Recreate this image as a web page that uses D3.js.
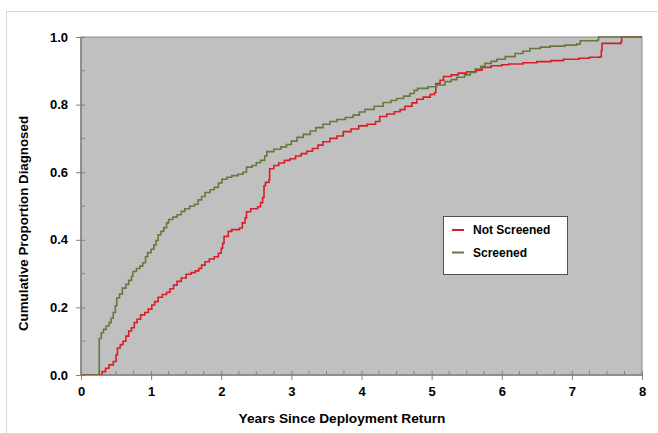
<!DOCTYPE html>
<html>
<head>
<meta charset="utf-8">
<script src="https://cdn.jsdelivr.net/npm/d3@7/dist/d3.min.js"></script>
<style>
  html, body { margin: 0; padding: 0; background: #ffffff; }
  svg { display: block; font-family: "Liberation Sans", Arial, sans-serif; }
</style>
</head>
<body>
<svg id="chart" width="658" height="433"></svg>
<script>
// ---- data ----
const seriesNames = ["Not Screened", "Screened"];
const seriesColors = ["#dc1c24", "#647a3a"];
const xTicks = [0, 1, 2, 3, 4, 5, 6, 7, 8];
const yTicks = [0.0, 0.2, 0.4, 0.6, 0.8, 1.0];
const xTitle = "Years Since Deployment Return";
const yTitle = "Cumulative Proportion Diagnosed";

const notScreened = [
  [0,0],[0.25,0],[0.30,0.01],[0.35,0.02],[0.40,0.03],[0.46,0.04],[0.50,0.06],[0.52,0.08],[0.56,0.09],
  [0.60,0.10],[0.64,0.115],[0.68,0.13],[0.72,0.14],[0.76,0.155],[0.80,0.165],[0.85,0.178],[0.91,0.185],
  [0.96,0.195],[1.01,0.207],[1.05,0.217],[1.10,0.23],[1.16,0.238],[1.22,0.245],[1.27,0.255],[1.32,0.266],
  [1.37,0.277],[1.43,0.287],[1.50,0.298],[1.57,0.303],[1.63,0.308],[1.68,0.315],[1.72,0.325],[1.77,0.335],
  [1.83,0.343],[1.90,0.350],[1.96,0.360],[2.00,0.375],[2.02,0.39],[2.04,0.41],[2.10,0.425],[2.15,0.43],
  [2.26,0.435],[2.30,0.45],[2.34,0.465],[2.36,0.483],[2.42,0.492],[2.52,0.498],[2.56,0.51],[2.59,0.525],
  [2.61,0.56],[2.63,0.57],[2.68,0.578],[2.69,0.61],[2.75,0.62],[2.82,0.627],[2.90,0.635],[2.98,0.64],
  [3.06,0.648],[3.14,0.655],[3.22,0.662],[3.30,0.670],[3.38,0.68],[3.45,0.69],[3.55,0.70],[3.65,0.707],
  [3.74,0.72],[3.85,0.728],[3.96,0.737],[4.08,0.742],[4.20,0.75],[4.26,0.765],[4.36,0.772],[4.47,0.779],
  [4.55,0.785],[4.62,0.795],[4.72,0.805],[4.79,0.816],[4.88,0.822],[4.98,0.83],[5.04,0.835],[5.06,0.862],
  [5.12,0.872],[5.17,0.883],[5.28,0.888],[5.38,0.893],[5.50,0.897],[5.64,0.902],[5.72,0.91],[5.85,0.915],
  [6.00,0.918],[6.10,0.92],[6.30,0.924],[6.50,0.927],[6.70,0.930],[6.88,0.934],[7.10,0.937],[7.25,0.940],
  [7.40,0.942],[7.42,0.96],[7.43,0.981],[7.70,0.986],[7.71,1.0],[8,1.0]
];

const screened = [
  [0,0],[0.26,0],[0.26,0.108],[0.29,0.125],[0.32,0.135],[0.36,0.145],[0.40,0.155],[0.43,0.168],[0.46,0.185],
  [0.49,0.205],[0.51,0.228],[0.55,0.24],[0.59,0.257],[0.64,0.268],[0.68,0.28],[0.72,0.292],[0.74,0.306],
  [0.79,0.315],[0.84,0.322],[0.88,0.332],[0.92,0.350],[0.95,0.362],[1.00,0.372],[1.04,0.385],[1.07,0.398],
  [1.10,0.415],[1.14,0.425],[1.18,0.436],[1.22,0.45],[1.25,0.46],[1.31,0.467],[1.37,0.474],[1.43,0.484],
  [1.48,0.492],[1.55,0.50],[1.62,0.505],[1.67,0.518],[1.72,0.528],[1.77,0.54],[1.84,0.548],[1.90,0.555],
  [1.96,0.568],[2.01,0.579],[2.08,0.585],[2.15,0.59],[2.24,0.594],[2.31,0.60],[2.36,0.615],[2.44,0.62],
  [2.50,0.628],[2.56,0.635],[2.62,0.648],[2.65,0.661],[2.75,0.668],[2.85,0.675],[2.93,0.682],[3.00,0.692],
  [3.08,0.703],[3.17,0.712],[3.27,0.722],[3.35,0.732],[3.45,0.742],[3.55,0.75],[3.65,0.756],[3.77,0.762],
  [3.88,0.769],[3.97,0.778],[4.05,0.786],[4.18,0.795],[4.31,0.806],[4.42,0.812],[4.50,0.818],[4.60,0.825],
  [4.69,0.833],[4.75,0.842],[4.80,0.848],[4.95,0.853],[5.07,0.858],[5.19,0.868],[5.28,0.874],[5.36,0.881],
  [5.47,0.888],[5.55,0.895],[5.62,0.905],[5.70,0.913],[5.76,0.922],[5.85,0.928],[5.93,0.934],[6.05,0.942],
  [6.19,0.951],[6.30,0.958],[6.40,0.966],[6.55,0.970],[6.69,0.973],[6.90,0.976],[7.07,0.979],[7.12,0.989],
  [7.37,0.991],[7.38,1.0],[8,1.0]
];

const seriesData = [notScreened, screened];

// ---- layout ----
const svg = d3.select("#chart");
const plot = { left: 81, right: 642, top: 37, bottom: 375 };

const x = d3.scaleLinear().domain([0, 8]).range([plot.left, plot.right]);
const y = d3.scaleLinear().domain([0, 1]).range([plot.bottom, plot.top]);

// outer frame
svg.append("rect")
  .attr("x", 6.5).attr("y", 11.5).attr("width", 720).attr("height", 500)
  .attr("fill", "none").attr("stroke", "#d9d9d9").attr("stroke-width", 1);

// plot background
svg.append("rect")
  .attr("x", plot.left).attr("y", plot.top)
  .attr("width", plot.right - plot.left).attr("height", plot.bottom - plot.top)
  .attr("fill", "#c0c0c0").attr("stroke", "#8c8c8c").attr("stroke-width", 1);

// clip
svg.append("clipPath").attr("id", "clip").append("rect")
  .attr("x", plot.left).attr("y", plot.top - 2)
  .attr("width", plot.right - plot.left).attr("height", plot.bottom - plot.top + 2);

// minor ticks (inside)
const xMinor = d3.range(0, 8.001, 0.25).filter(v => Math.abs(v - Math.round(v)) > 1e-6);
const yMinor = d3.range(0.1, 1.0, 0.2);

const xAxis = d3.axisBottom(x).tickValues(xTicks).tickFormat(d3.format("d")).tickSize(5).tickPadding(7);
const gx = svg.append("g").attr("transform", `translate(0,${plot.bottom})`).call(xAxis);
gx.select(".domain").remove();
gx.selectAll(".tick line").attr("stroke", "#808080").attr("y1", -4);
gx.selectAll(".tick text").attr("font-size", 13).attr("font-weight", "bold").attr("fill", "#000")
  .attr("font-family", "Liberation Sans, Arial, sans-serif");

svg.append("g").selectAll("line").data(xMinor).join("line")
  .attr("x1", d => x(d)).attr("x2", d => x(d))
  .attr("y1", plot.bottom).attr("y2", plot.bottom - 4)
  .attr("stroke", "#808080");

const yAxis = d3.axisLeft(y).tickValues(yTicks).tickFormat(d3.format(".1f")).tickSize(5).tickPadding(8);
const gy = svg.append("g").attr("transform", `translate(${plot.left},0)`).call(yAxis);
gy.select(".domain").remove();
gy.selectAll(".tick line").attr("stroke", "#808080").attr("x1", 4);
gy.selectAll(".tick text").attr("font-size", 13).attr("font-weight", "bold").attr("fill", "#000")
  .attr("font-family", "Liberation Sans, Arial, sans-serif");

svg.append("g").selectAll("line").data(yMinor).join("line")
  .attr("x1", plot.left).attr("x2", plot.left + 4)
  .attr("y1", d => y(d)).attr("y2", d => y(d))
  .attr("stroke", "#808080");

// axis lines
svg.append("line").attr("x1", plot.left).attr("x2", plot.right)
  .attr("y1", plot.bottom).attr("y2", plot.bottom).attr("stroke", "#808080").attr("stroke-width", 1.5);
svg.append("line").attr("x1", plot.left).attr("x2", plot.left)
  .attr("y1", plot.top).attr("y2", plot.bottom).attr("stroke", "#808080").attr("stroke-width", 1.5);

// series
const line = d3.line().x(d => x(d[0])).y(d => y(d[1])).curve(d3.curveStepAfter);
svg.append("g").attr("clip-path", "url(#clip)")
  .selectAll("path").data(seriesData).join("path")
  .attr("d", d => line(d))
  .attr("fill", "none")
  .attr("stroke", (d, i) => seriesColors[i])
  .attr("stroke-width", 1.6);

// legend
const lg = svg.append("g");
lg.append("rect").attr("x", 443.5).attr("y", 216.5).attr("width", 124).attr("height", 58)
  .attr("fill", "#ffffff").attr("stroke", "#505050").attr("stroke-width", 1);
seriesNames.forEach((name, i) => {
  const ly = 230 + i * 22.5;
  lg.append("line").attr("x1", 452).attr("x2", 464).attr("y1", ly).attr("y2", ly)
    .attr("stroke", seriesColors[i]).attr("stroke-width", 2);
  lg.append("text").attr("x", 473).attr("y", ly + 4)
    .attr("font-size", 12).attr("font-weight", "bold").attr("fill", "#000").text(name);
});

// titles
svg.append("text").attr("x", 342).attr("y", 422.5)
  .attr("text-anchor", "middle").attr("font-size", 13.7).attr("font-weight", "bold").text(xTitle);
svg.append("text").attr("transform", "translate(28,223.5) rotate(-90)")
  .attr("text-anchor", "middle").attr("font-size", 13.3).attr("font-weight", "bold").text(yTitle);
</script>
</body>
</html>
